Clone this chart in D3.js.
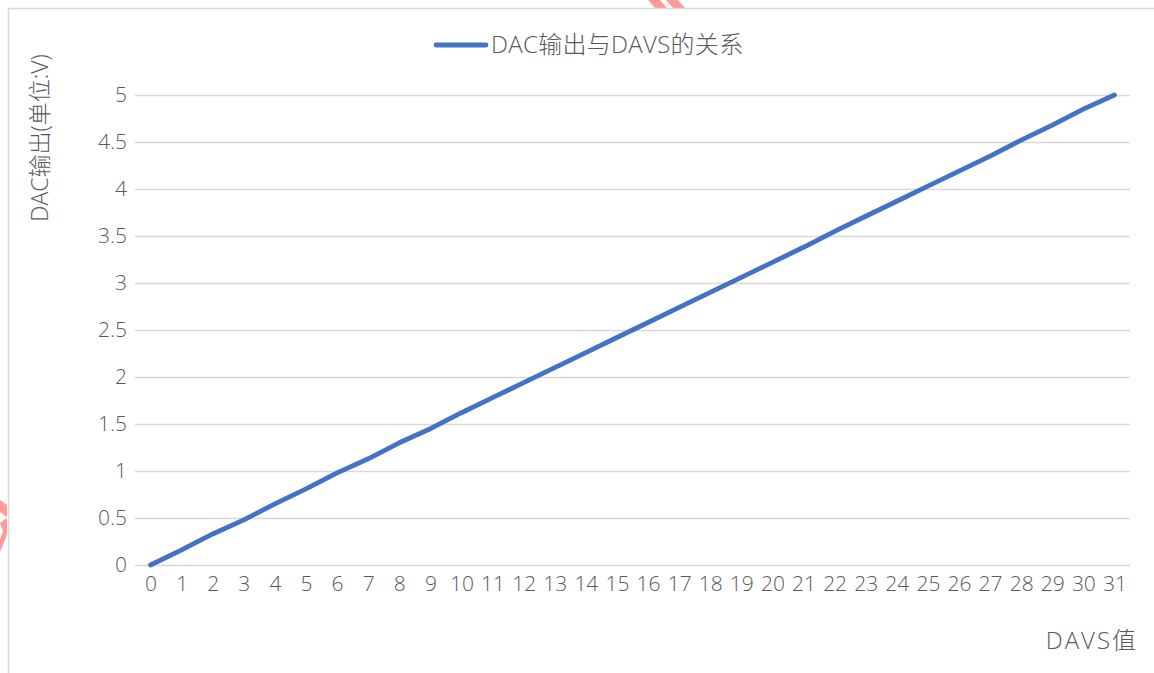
<!DOCTYPE html>
<html>
<head>
<meta charset="utf-8">
<script src="https://cdn.jsdelivr.net/npm/d3@7"></script>
<style>
  html, body { margin: 0; padding: 0; background: #fff; }
  svg { display: block; }
  text { font-family: "Open Sans", "Noto Sans CJK SC", sans-serif; font-weight: 300; fill: #595959; }
</style>
</head>
<body>
<svg id="chart" width="1154" height="673"></svg>
<script>
// DAVS code values (x categories)
const davs = d3.range(0, 32).map(String);
// Measured DAC output in volts for each DAVS code
const dacVolts = [0, 0.16, 0.33, 0.48, 0.65, 0.81, 0.98, 1.13, 1.30, 1.45, 1.62, 1.78,
                  1.94, 2.10, 2.26, 2.42, 2.58, 2.74, 2.90, 3.06, 3.22, 3.38, 3.55, 3.71,
                  3.87, 4.03, 4.19, 4.35, 4.52, 4.68, 4.85, 5.0];
const yTicks = [0, 0.5, 1, 1.5, 2, 2.5, 3, 3.5, 4, 4.5, 5];
const seriesName = "DAC输出与DAVS的关系";
const xTitle = "DAVS值";
const yTitle = "DAC输出(单位:V)";

const plot = { left: 135, right: 1130, top: 95, bottom: 565 };
const svg = d3.select("#chart");

// stray pink marks clipped at the edges
svg.append("polygon").attr("points", "648,0 660,0 667,8 655,8").attr("fill", "#ff9a9a");
svg.append("polygon").attr("points", "666,0 678,0 685,8 673,8").attr("fill", "#ff9a9a");
svg.append("polygon").attr("points", "0,500 7,505 7,517 0,512").attr("fill", "#ff9a9a");
svg.append("polygon").attr("points", "0,523 7,518 7,535 0,552 0,540 3,531").attr("fill", "#ff9a9a");

// outer chart frame
svg.append("rect").attr("x", 8.5).attr("y", 8.5).attr("width", 1300).attr("height", 800)
  .attr("fill", "none").attr("stroke", "#d9d9d9").attr("stroke-width", 1.5);

const x = d3.scalePoint().domain(davs).range([plot.left, plot.right]).padding(0.5);
const y = d3.scaleLinear().domain([0, 5]).range([plot.bottom, plot.top]);

// horizontal gridlines
svg.append("g").selectAll("line").data(yTicks).join("line")
  .attr("x1", plot.left).attr("x2", plot.right)
  .attr("y1", d => Math.round(y(d)) + 0.5).attr("y2", d => Math.round(y(d)) + 0.5)
  .attr("stroke", "#d9d9d9").attr("stroke-width", 1.5);

const tickFont = '"Open Sans", "Noto Sans CJK SC", sans-serif';

// y axis labels
const yAxis = svg.append("g").attr("transform", `translate(${plot.left - 8},0)`)
  .call(d3.axisLeft(y).tickValues(yTicks).tickSize(0).tickPadding(0).tickFormat(d3.format("~g")));
yAxis.select(".domain").remove();
yAxis.selectAll("text").style("font-size", "21px").style("fill", "#595959")
  .style("font-family", tickFont).style("font-weight", 300);

// x axis labels
const xAxis = svg.append("g").attr("transform", `translate(0,${plot.bottom + 11})`)
  .call(d3.axisBottom(x).tickSize(0).tickPadding(0));
xAxis.select(".domain").remove();
xAxis.selectAll("text").style("font-size", "21px").style("fill", "#595959")
  .style("font-family", tickFont).style("font-weight", 300);

// data line
const line = d3.line().x((d, i) => x(davs[i])).y(d => y(d));
svg.append("path").datum(dacVolts)
  .attr("d", line).attr("fill", "none").attr("stroke", "#4472c4")
  .attr("stroke-width", 4.8).attr("stroke-linejoin", "round").attr("stroke-linecap", "round");

// legend
svg.append("line").attr("x1", 436).attr("x2", 486).attr("y1", 45).attr("y2", 45)
  .attr("stroke", "#4472c4").attr("stroke-width", 4.8).attr("stroke-linecap", "round");
svg.append("text").attr("x", 491).attr("y", 53).style("font-size", "24px")
  .style("letter-spacing", "0.3px").text(seriesName);

// axis titles
svg.append("text").attr("transform", "translate(48,138) rotate(-90)")
  .attr("text-anchor", "middle").style("font-size", "23px").text(yTitle);
svg.append("text").attr("x", 1138).attr("y", 649).attr("text-anchor", "end")
  .style("font-size", "24px").style("letter-spacing", "2px").text(xTitle);
</script>
</body>
</html>
